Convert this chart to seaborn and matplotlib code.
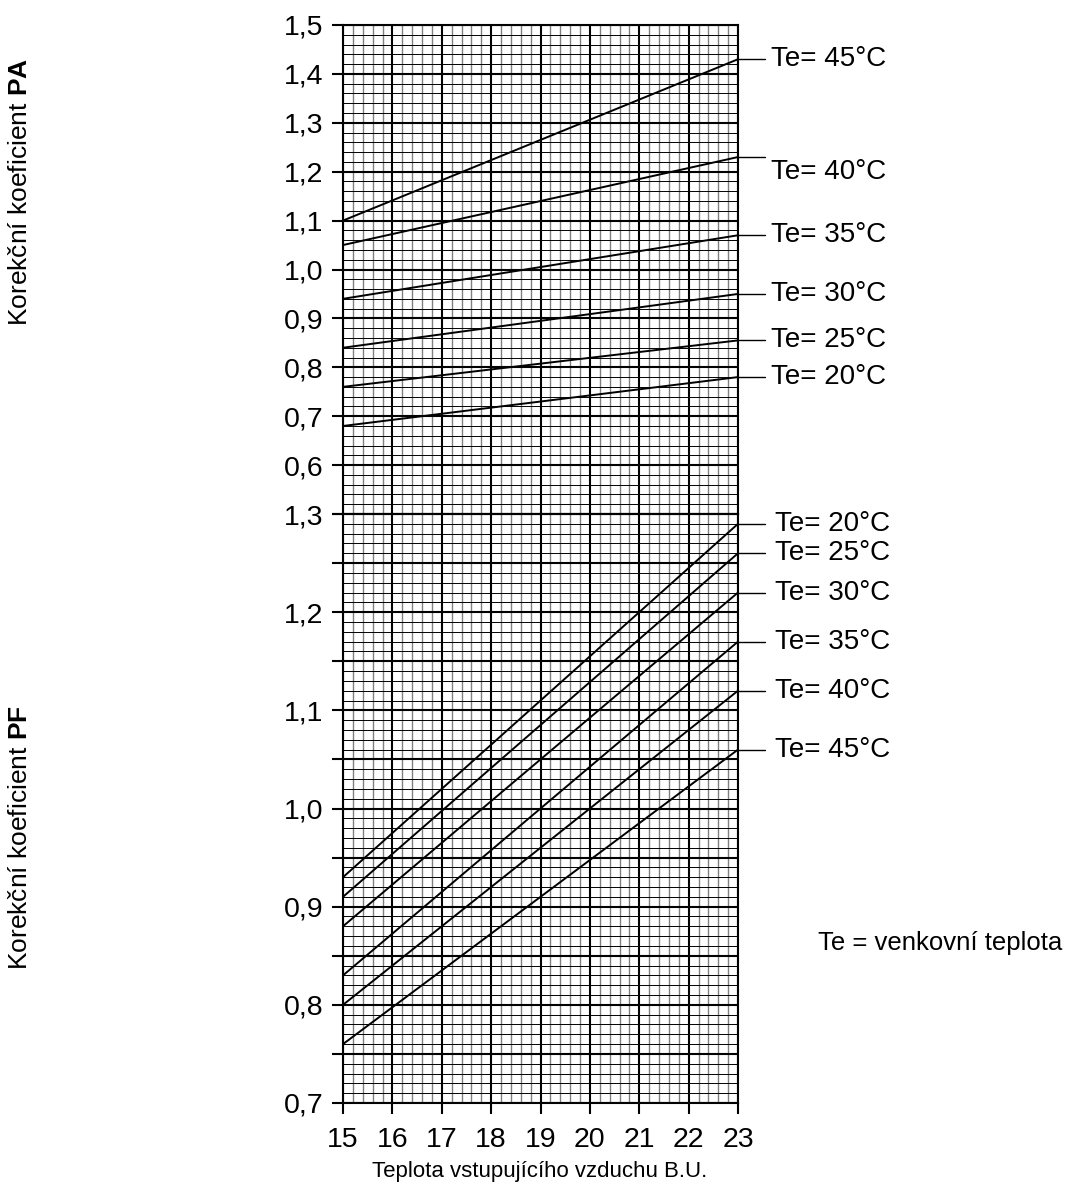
import numpy as np
import pandas as pd
import matplotlib
matplotlib.use("Agg")
import matplotlib.pyplot as plt
import seaborn as sns
from matplotlib.ticker import MultipleLocator, FuncFormatter

sns.set_style("white")
plt.rcParams["font.family"] = ["Liberation Sans", "DejaVu Sans"]
plt.rcParams["mathtext.fontset"] = "custom"
plt.rcParams["mathtext.bf"] = "Liberation Sans:bold"
plt.rcParams["mathtext.rm"] = "Liberation Sans"
plt.rcParams["text.color"] = "black"
plt.rcParams["xtick.color"] = "black"
plt.rcParams["ytick.color"] = "black"

# data: coefficient at inlet temp 15 and 23
x_vals = [15, 23]
te_labels = ["45", "40", "35", "30", "25", "20"]
pa_start = [1.10, 1.05, 0.94, 0.84, 0.76, 0.68]
pa_end = [1.43, 1.23, 1.07, 0.95, 0.855, 0.78]
pf_te = ["20", "25", "30", "35", "40", "45"]
pf_start = [0.93, 0.91, 0.88, 0.83, 0.80, 0.76]
pf_end = [1.29, 1.26, 1.22, 1.17, 1.12, 1.06]
pa_label_shift = [0, -0.03, 0, 0, 0, 0]

rows = []
for t, a, b in zip(te_labels, pa_start, pa_end):
    rows += [("PA", t, x_vals[0], a), ("PA", t, x_vals[1], b)]
for t, a, b in zip(pf_te, pf_start, pf_end):
    rows += [("PF", t, x_vals[0], a), ("PF", t, x_vals[1], b)]
df = pd.DataFrame(rows, columns=["coef", "Te", "x", "y"])

fig = plt.figure(figsize=(10.67, 11.89), dpi=100)
left, right = 343 / 1067, 738 / 1067
y_top, y_mid, y_bot = 1 - 25 / 1189, 1 - 514 / 1189, 1 - 1103 / 1189
ax1 = fig.add_axes([left, y_mid, right - left, y_top - y_mid])
ax2 = fig.add_axes([left, y_bot, right - left, y_mid - y_bot])

comma2 = FuncFormatter(lambda v, p: f"{v:.1f}".replace(".", ",")
                       if abs(round(v * 10) - v * 10) < 1e-6 else "")


def style(ax, ylo, yhi, ymaj, ymin):
    ax.set_xlim(15, 23)
    ax.set_ylim(ylo, yhi)
    ax.xaxis.set_major_locator(MultipleLocator(1))
    ax.xaxis.set_minor_locator(MultipleLocator(0.2))
    ax.yaxis.set_major_locator(MultipleLocator(ymaj))
    ax.yaxis.set_minor_locator(MultipleLocator(ymin))
    ax.xaxis.grid(True, which="minor", color="#808080", lw=1.0)
    ax.yaxis.grid(True, which="minor", color="black", lw=0.7)
    ax.grid(True, which="major", color="black", lw=1.5)
    ax.set_axisbelow(True)
    for s in ax.spines.values():
        s.set_color("black")
        s.set_linewidth(1.5)
    ax.tick_params(which="major", direction="out", length=8, width=1.5,
                   color="black", labelsize=20.5, left=True, bottom=True,
                   labelcolor="black")
    ax.tick_params(axis="x", pad=9)
    ax.tick_params(axis="y", pad=6)
    ax.tick_params(which="minor", length=0)


style(ax1, 0.5, 1.5, 0.1, 0.02)
style(ax2, 0.7, 1.3, 0.05, 0.01)
ax1.yaxis.set_major_formatter(FuncFormatter(
    lambda v, p: "" if v < 0.55 else f"{v:.1f}".replace(".", ",")))
ax1.tick_params(axis="x", bottom=False, labelbottom=False)
ax2.yaxis.set_major_formatter(comma2)

sns.lineplot(data=df[df.coef == "PA"], x="x", y="y", hue="Te", ax=ax1,
             palette=["black"] * 6, lw=1.4, legend=False)
sns.lineplot(data=df[df.coef == "PF"], x="x", y="y", hue="Te", ax=ax2,
             palette=["black"] * 6, lw=1.4, legend=False)
for ax in (ax1, ax2):
    ax.set_xlabel("")
    ax.set_ylabel("")

for t, yv, sh in zip(te_labels, pa_end, pa_label_shift):
    ax1.plot([23, 23.55], [yv, yv], color="black", lw=1, clip_on=False)
    ax1.text(23.66, yv + sh, f"Te= {t}°C", fontsize=20, va="center",
             ha="left")
for t, yv in zip(pf_te, pf_end):
    ax2.plot([23, 23.55], [yv, yv], color="black", lw=1, clip_on=False)
    ax2.text(23.75, yv, f"Te= {t}°C", fontsize=20, va="center", ha="left")

fig.text(20 / 1067, 1 - 192 / 1189, r"Korekční koeficient $\bf{PA}$",
         rotation=90, ha="center", va="center", fontsize=19)
fig.text(20 / 1067, 1 - 838 / 1189, r"Korekční koeficient $\bf{PF}$",
         rotation=90, ha="center", va="center", fontsize=19)
fig.text(540 / 1067, 1 - 1172 / 1189, "Teplota vstupujícího vzduchu B.U.",
         ha="center", va="center", fontsize=16)
fig.text(818 / 1067, 1 - 943 / 1189, "Te = venkovní teplota",
         ha="left", va="center", fontsize=18.5)

fig.savefig("out.png", dpi=100)
